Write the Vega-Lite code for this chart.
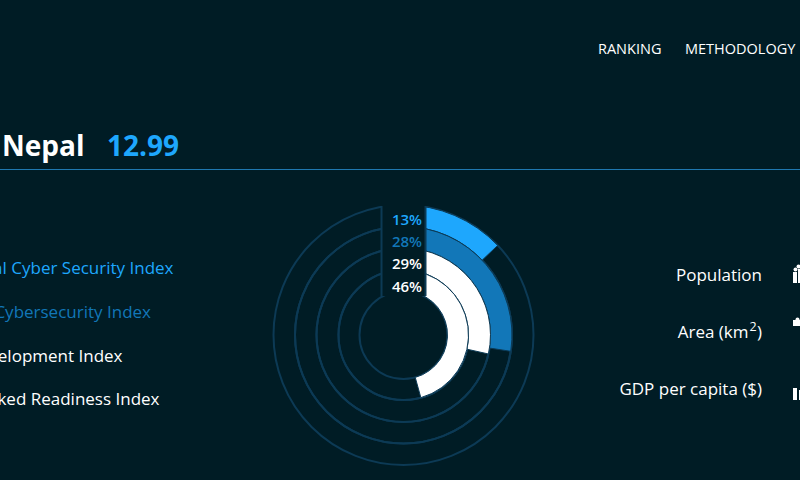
{
"$schema":"https://vega.github.io/schema/vega-lite/v6.json",
"width":800,"height":480,"padding":0,"autosize":"none",
"background":"#001c25",
"config":{"view":{"stroke":null},"axis":{"disable":true},"legend":{"disable":true},"text":{"font":"Open Sans"}},
"encoding":{},
"layer":[
{"data":{"values":[{"from":0,"to":800,"y":169.5}]},"mark":{"type":"rule","color":"#1f78b0","strokeWidth":1.2},
 "encoding":{"x":{"field":"from","type":"quantitative","scale":{"domain":[0,800],"range":[0,800],"nice":false}},"x2":{"field":"to"},"y":{"field":"y","type":"quantitative","scale":{"domain":[0,480],"range":[0,480],"nice":false,"padding":0}}}},
{"data":{"values":[{"r0":44,"r1":65,"s":0,"e":100},{"r0":65,"r1":87,"s":0,"e":100},{"r0":87,"r1":108.5,"s":0,"e":100},{"r0":108.5,"r1":130,"s":0,"e":100}]},
 "mark":{"type":"arc","fillOpacity":0,"stroke":"#0c3a55","strokeWidth":2,"x":403.5,"y":335},
 "encoding":{
 "theta":{"field":"s","type":"quantitative","scale":{"domain":[0,100],"range":[0,6.28319]}},"theta2":{"field":"e"},
 "radius":{"field":"r1","type":"quantitative","scale":{"domain":[0,130],"range":[0,130]}},"radius2":{"field":"r0"}}},
{"data":{"values":[{"index":"Global Cyber Security Index","s":0,"pct":12.9,"r0":108.5,"r1":130},{"index":"National Cybersecurity Index","s":0,"pct":27.4,"r0":87,"r1":108.5},{"index":"ICT Development Index","s":0,"pct":28.5,"r0":65,"r1":87},{"index":"Networked Readiness Index","s":0,"pct":45.7,"r0":44,"r1":65}]},
 "mark":{"type":"arc","stroke":"#0c3a55","strokeWidth":1,"x":403.5,"y":335},
 "encoding":{
 "theta":{"field":"s","type":"quantitative","scale":{"domain":[0,100],"range":[0,6.28319]}},"theta2":{"field":"pct"},
 "radius":{"field":"r1","type":"quantitative","scale":{"domain":[0,130],"range":[0,130]}},"radius2":{"field":"r0"},
 "fill":{"field":"index","type":"nominal","scale":{"domain":["Global Cyber Security Index","National Cybersecurity Index","ICT Development Index","Networked Readiness Index"],"range":["#1ea7fd","#1277b8","#ffffff","#ffffff"]}}}},
{"data":{"values":[{"x0":381.5,"x1":425.5,"y0":200,"y1":296}]},"mark":{"type":"rect","color":"#001c25"},
 "encoding":{"x":{"field":"x0","type":"quantitative"},"x2":{"field":"x1"},"y":{"field":"y0","type":"quantitative"},"y2":{"field":"y1"}}},
{"data":{"values":[{"x":381.5,"a":206,"b":296},{"x":425.5,"a":206,"b":296}]},"mark":{"type":"rule","color":"#0c3a55","strokeWidth":2},
 "encoding":{"x":{"field":"x","type":"quantitative"},"y":{"field":"a","type":"quantitative"},"y2":{"field":"b"}}},
{"data":{"values":[
 {"t":"13%","group":"a","px":422,"py":219.5},{"t":"28%","group":"b","px":422,"py":242},{"t":"29%","group":"c","px":422,"py":264},{"t":"46%","group":"c","px":422,"py":287}]},
 "mark":{"type":"text","align":"right","baseline":"middle","fontSize":15,"fontWeight":600},
 "encoding":{"text":{"field":"t","type":"nominal"},"x":{"field":"px","type":"quantitative"},"y":{"field":"py","type":"quantitative"},"color":{"field":"group","type":"nominal","scale":{"domain":["a","b","c"],"range":["#1ea7fd","#1277b8","#ffffff"]}}}},
{"data":{"values":[{"t":"Nepal","group":"c","px":2,"py":156},{"t":"12.99","group":"a","px":107,"py":156}]},
 "mark":{"type":"text","align":"left","baseline":"alphabetic","fontSize":28,"fontWeight":700},
 "encoding":{"text":{"field":"t","type":"nominal"},"x":{"field":"px","type":"quantitative"},"y":{"field":"py","type":"quantitative"},"color":{"field":"group","type":"nominal"}}},
{"data":{"values":[{"t":"RANKING","px":598,"py":54},{"t":"METHODOLOGY","px":685,"py":54}]},
 "mark":{"type":"text","align":"left","baseline":"alphabetic","fontSize":14.5,"fontWeight":500,"color":"#ffffff"},
 "encoding":{"text":{"field":"t","type":"nominal"},"x":{"field":"px","type":"quantitative"},"y":{"field":"py","type":"quantitative"}}},
{"data":{"values":[{"t":"Global Cyber Security Index","group":"a","px":173.5,"py":274},{"t":"National Cybersecurity Index","group":"b","px":151,"py":318},{"t":"ICT Development Index","group":"c","px":122.5,"py":362},{"t":"Networked Readiness Index","group":"c","px":159.5,"py":405}]},
 "mark":{"type":"text","align":"right","baseline":"alphabetic","fontSize":17,"fontWeight":500},
 "encoding":{"text":{"field":"t","type":"nominal"},"x":{"field":"px","type":"quantitative"},"y":{"field":"py","type":"quantitative"},"color":{"field":"group","type":"nominal"}}},
{"data":{"values":[{"t":"Population","px":762,"py":280.5},{"t":"Area (km","px":748.5,"py":338},{"t":")","px":762,"py":338},{"t":"GDP per capita ($)","px":762,"py":394.5}]},
 "mark":{"type":"text","align":"right","baseline":"alphabetic","fontSize":17,"fontWeight":500,"color":"#ffffff"},
 "encoding":{"text":{"field":"t","type":"nominal"},"x":{"field":"px","type":"quantitative"},"y":{"field":"py","type":"quantitative"}}},
{"data":{"values":[{"t":"2","px":749.5,"py":331}]},
 "mark":{"type":"text","align":"left","baseline":"alphabetic","fontSize":12.5,"fontWeight":500,"color":"#ffffff"},
 "encoding":{"text":{"field":"t","type":"nominal"},"x":{"field":"px","type":"quantitative"},"y":{"field":"py","type":"quantitative"}}},
{"data":{"values":[{"x0":793,"x1":797,"y0":388,"y1":400},{"x0":799,"x1":800,"y0":390,"y1":400},{"x0":793,"x1":797,"y0":272,"y1":283},{"x0":798,"x1":800,"y0":269,"y1":283},{"x0":793,"x1":800,"y0":320,"y1":326}]},
 "mark":{"type":"rect","color":"#ffffff"},
 "encoding":{"x":{"field":"x0","type":"quantitative"},"x2":{"field":"x1"},"y":{"field":"y0","type":"quantitative"},"y2":{"field":"y1"}}},
{"data":{"values":[{"px":795.5,"py":269.5},{"px":798.5,"py":266.5},{"px":797.5,"py":319.5}]},
 "mark":{"type":"point","filled":true,"color":"#ffffff","opacity":1,"size":16},
 "encoding":{"x":{"field":"px","type":"quantitative"},"y":{"field":"py","type":"quantitative"}}}
]
}
